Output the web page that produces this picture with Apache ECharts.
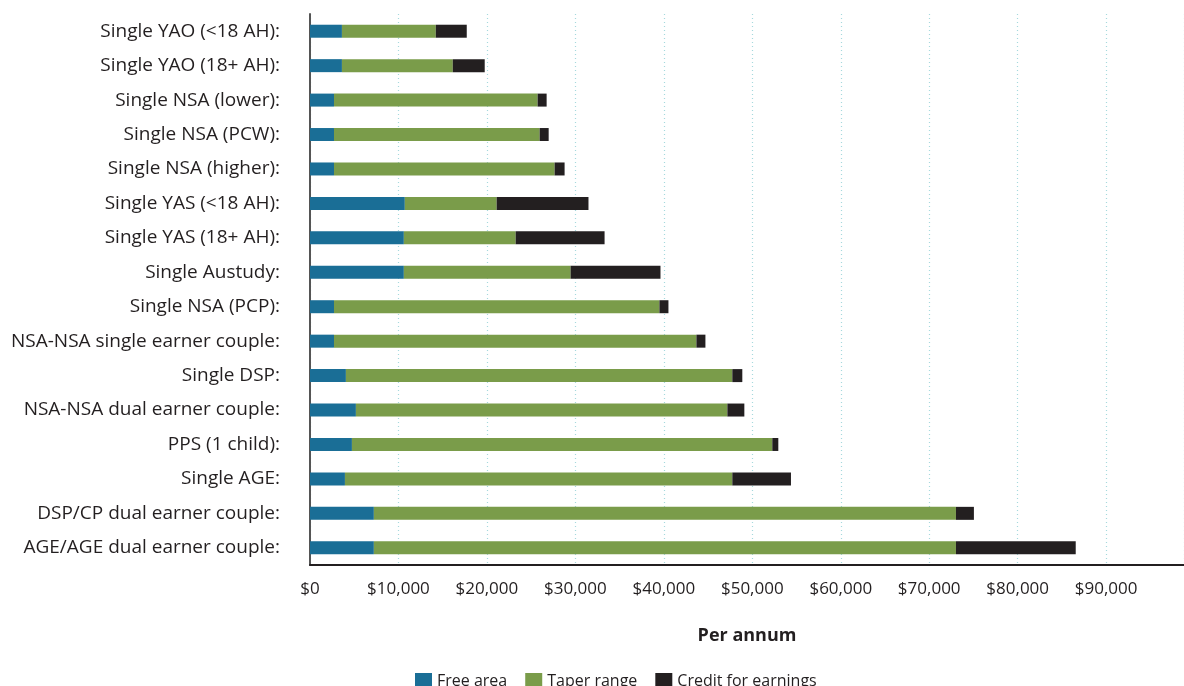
<!DOCTYPE html>
<html>
<head>
<meta charset="utf-8">
<script src="https://cdn.jsdelivr.net/npm/echarts@6/dist/echarts.min.js"></script>
<style>html,body{margin:0;padding:0;background:#fff;}#c{width:1184px;height:686px;}</style>
</head>
<body>
<div id="c"></div>
<script>
const categories = [
  'Single YAO (<18 AH):','Single YAO (18+ AH):','Single NSA (lower):','Single NSA (PCW):',
  'Single NSA (higher):','Single YAS (<18 AH):','Single YAS (18+ AH):','Single Austudy:',
  'Single NSA (PCP):','NSA-NSA single earner couple:','Single DSP:','NSA-NSA dual earner couple:',
  'PPS (1 child):','Single AGE:','DSP/CP dual earner couple:','AGE/AGE dual earner couple:'
];
const freeArea = [3610,3610,2710,2710,2710,10720,10610,10610,2710,2710,4060,5190,4740,3950,7220,7220];
const taperRange = [10610,12530,23020,23250,24940,10380,12640,18850,36790,40970,43680,41990,47520,43790,65800,65800];
const creditEarnings = [3500,3610,1020,1020,1130,10380,10050,10160,1020,1020,1130,1920,680,6630,2030,13540];
const seriesNames = ['Free area','Taper range','Credit for earnings'];
const colors = ['#1a6e96','#7a9c4a','#231f20'];
const fontFam = '"Open Sans", "Noto Sans", sans-serif';

const chart = echarts.init(document.getElementById('c'));
const mk = (name, data, color) => ({
  name, type: 'bar', stack: 'total', data, barWidth: 13,
  itemStyle: { color }, emphasis: { disabled: true }
});
chart.setOption({
  animation: false,
  grid: { left: 310, right: 0, top: 14, bottom: 121, containLabel: false },
  legend: {
    data: seriesNames, left: 410, top: 668, itemWidth: 17, itemHeight: 17, itemGap: 18,
    icon: 'rect', textStyle: { fontFamily: fontFam, fontSize: 16, color: '#231f20' }
  },
  xAxis: {
    type: 'value', min: 0, max: 98800, interval: 10000,
    name: 'Per annum', nameLocation: 'middle', nameGap: 62,
    nameTextStyle: { fontFamily: fontFam, fontSize: 18, fontWeight: 'bold', color: '#231f20' },
    axisLine: { show: true, lineStyle: { color: '#231f20', width: 2 } },
    axisTick: { show: false },
    axisLabel: {
      fontFamily: fontFam, fontSize: 17, color: '#231f20', margin: 16, showMaxLabel: false,
      formatter: v => (v % 10000 === 0) ? '$' + v.toLocaleString('en-US') : ''
    },
    splitLine: { show: true, lineStyle: { color: '#a6d9dd', type: [1, 3], width: 1.2 } }
  },
  yAxis: {
    type: 'category', data: categories, inverse: true,
    axisLine: { show: true, lineStyle: { color: '#555555', width: 2 } },
    axisTick: { show: false },
    axisLabel: { fontFamily: fontFam, fontSize: 19, color: '#231f20', margin: 30 }
  },
  series: [
    mk(seriesNames[0], freeArea, colors[0]),
    mk(seriesNames[1], taperRange, colors[1]),
    mk(seriesNames[2], creditEarnings, colors[2])
  ]
});
</script>
</body>
</html>
